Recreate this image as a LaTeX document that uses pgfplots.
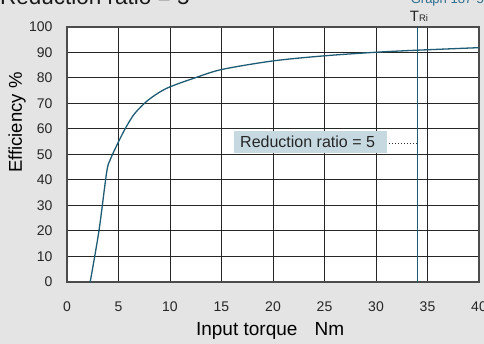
\documentclass[border=0pt]{standalone}
\usepackage{pgfplots}
\pgfplotsset{compat=1.18}
\usepackage{fontspec}
\setmainfont{Liberation Sans}
\definecolor{bgcol}{HTML}{E4E4E4}
\definecolor{curve}{HTML}{1E5C74}
\definecolor{boxcol}{HTML}{C6D9E1}
\definecolor{graphcol}{HTML}{2D6E8E}
\begin{document}
\begin{tikzpicture}
\useasboundingbox (-67pt,-62pt) rectangle (417pt,282pt);
\fill[bgcol] (-67pt,-62pt) rectangle (417pt,282pt);
\clip (-67pt,-62pt) rectangle (417pt,282pt);
\begin{axis}[
  at={(0pt,0pt)}, anchor=south west,
  scale only axis, width=412pt, height=255pt,
  xmin=0, xmax=40, ymin=0, ymax=100,
  xtick={0,5,...,40}, ytick={0,10,...,100},
  major tick length=0pt,
  grid=major,
  major grid style={black!85, line width=1pt},
  axis line style={black!70, line width=1.6pt},
  axis background/.style={fill=white},
  /pgf/number format/assume math mode=true,
  ticklabel style={font=\fontsize{14}{16}\selectfont, text=black!85},
  yticklabel style={xshift=-11pt},
  xticklabel style={yshift=-16pt},
  xlabel={Input torque\hspace{0.9em}Nm},
  ylabel={Efficiency \%},
  xlabel style={font=\fontsize{19}{21}\selectfont, at={(axis description cs:0.493,-0.208)}, anchor=base},
  ylabel style={font=\fontsize{18.5}{20}\selectfont, at={(axis description cs:-0.121,0.625)}, anchor=center},
  clip=false,
]
\addplot[curve, line width=1.3pt, smooth, tension=0.5] coordinates {
(2.25,0) (3.1,20) (3.85,43) (4.2,48) (5.1,55.8) (5.8,61.2) (6.6,66.2) (7.9,71.4)
(9.7,76) (12.6,80.3) (15.1,83.4) (20,86.7) (25,88.7) (30,90.1) (34,90.9) (40,91.9)
};
\addplot[curve, line width=0.9pt] coordinates {(34,0) (34,100)};
\fill[boxcol] (axis cs:16.2,50.7) rectangle (axis cs:31.04,59.2);
\node[anchor=west, inner sep=0pt, font=\fontsize{16}{18}\selectfont, text=black!85] at (axis cs:16.8,54.9) {Reduction ratio = 5};
\draw[black!80, dotted, line width=1pt] (axis cs:31.3,54.4) -- (axis cs:34,54.4);
\end{axis}
\node[anchor=base west, inner sep=0pt, font=\fontsize{22.5}{24}\selectfont, text=black!90] at (-67pt,277.5pt) {Reduction ratio = 5};
\node[anchor=base east, inner sep=0pt, font=\fontsize{13}{15}\selectfont, text=graphcol] at (417pt,278pt) {Graph 187-5};
\node[anchor=base, inner sep=0pt, font=\fontsize{15}{17}\selectfont, text=black!85] at (352pt,260pt) {T{\fontsize{9.5}{10}\selectfont Ri}};
\end{tikzpicture}
\end{document}
